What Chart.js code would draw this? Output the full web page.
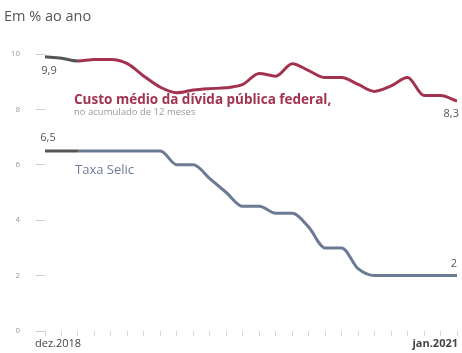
<!DOCTYPE html>
<html>
<head>
<meta charset="utf-8">
<script src="https://cdn.jsdelivr.net/npm/chart.js@4.4.1/dist/chart.umd.min.js"></script>
<style>
  html, body { margin: 0; padding: 0; background: #fff; }
  #wrap { width: 462px; height: 353px; position: relative; }
</style>
</head>
<body>
<div id="wrap"><canvas id="chart"></canvas></div>
<script>
// Months, dez.2018 to jan.2021
const months = [
    'dez.2018',
    'jan.2019', 'fev.2019', 'mar.2019', 'abr.2019', 'mai.2019', 'jun.2019',
    'jul.2019', 'ago.2019', 'set.2019', 'out.2019', 'nov.2019', 'dez.2019',
    'jan.2020', 'fev.2020', 'mar.2020', 'abr.2020', 'mai.2020', 'jun.2020',
    'jul.2020', 'ago.2020', 'set.2020', 'out.2020', 'nov.2020', 'dez.2020',
    'jan.2021'
];

// Custo medio da divida publica federal (% a.a., acumulado 12 meses)
const custoMedio = [
    9.9, 9.85, 9.75, 9.8, 9.8, 9.65, 9.2, 8.8, 8.6, 8.7, 8.75, 8.78, 8.9,
    9.3, 9.2, 9.65, 9.4, 9.15, 9.15, 8.9, 8.65, 8.85, 9.15, 8.5, 8.5, 8.3
];

// Taxa Selic (% a.a.)
const selic = [
    6.5, 6.5, 6.5, 6.5, 6.5, 6.5, 6.5, 6.5, 6.0, 6.0, 5.5, 5.0, 4.5,
    4.5, 4.25, 4.25, 3.75, 3.0, 3.0, 2.25, 2.0, 2.0, 2.0, 2.0, 2.0, 2.0
];

const yTicks = [0, 2, 4, 6, 8, 10];

const redColor = '#a3324f';
const blueColor = '#6c7b95';
const startGray = '#555555';

// Draws the title, the value tags and the series labels
const annotations = {
    id: 'annotations',
    afterDraw(chart) {
        const ctx = chart.ctx;
        const x = chart.scales.x;
        const y = chart.scales.y;
        const last = months.length - 1;
        ctx.save();
        ctx.textBaseline = 'middle';

        ctx.fillStyle = '#555';
        ctx.font = '14.5px "Open Sans"';
        ctx.textAlign = 'left';
        ctx.fillText('Em % ao ano', 4, 17);

        ctx.font = '11px "Open Sans"';
        ctx.fillStyle = '#555';
        ctx.textAlign = 'center';
        ctx.fillText('9,9', x.getPixelForValue(0) + 4, y.getPixelForValue(custoMedio[0]) + 14);
        ctx.fillText('6,5', x.getPixelForValue(0) + 3, y.getPixelForValue(selic[0]) - 13);
        ctx.textAlign = 'right';
        ctx.fillText('8,3', x.getPixelForValue(last) + 2, y.getPixelForValue(custoMedio[last]) + 13);
        ctx.fillText('2', x.getPixelForValue(last), y.getPixelForValue(selic[last]) - 12);

        ctx.textAlign = 'left';
        ctx.font = 'bold 13.5px "Open Sans"';
        ctx.fillStyle = redColor;
        ctx.fillText('Custo médio da dívida pública federal,', 74, 100);
        ctx.font = '9.5px "Open Sans"';
        ctx.fillStyle = '#999';
        ctx.fillText('no acumulado de 12 meses', 74, 112);

        ctx.font = '13px "Open Sans"';
        ctx.fillStyle = blueColor;
        ctx.fillText('Taxa Selic', 75, 170);

        // x axis end labels
        ctx.fillStyle = '#444';
        ctx.font = '11px "Open Sans"';
        ctx.textAlign = 'left';
        ctx.fillText(months[0], 35, 344);
        ctx.font = 'bold 11px "Open Sans"';
        ctx.textAlign = 'right';
        ctx.fillText(months[last], 458, 344);
        ctx.restore();
    }
};

const segColor = (color) => (c) => c.p0DataIndex < 2 ? startGray : color;

new Chart(document.getElementById('chart'), {
    type: 'line',
    data: {
        labels: months,
        datasets: [{
            label: 'Custo médio',
            data: custoMedio,
            borderColor: redColor,
            segment: { borderColor: segColor(redColor) },
            borderWidth: 3,
            cubicInterpolationMode: 'monotone',
            pointRadius: 0
        }, {
            label: 'Taxa Selic',
            data: selic,
            borderColor: blueColor,
            segment: { borderColor: segColor(blueColor) },
            borderWidth: 3,
            cubicInterpolationMode: 'monotone',
            pointRadius: 0
        }]
    },
    options: {
        responsive: true,
        maintainAspectRatio: false,
        animation: false,
        layout: { padding: { top: 54, right: 5, bottom: 0, left: 0 } },
        plugins: {
            legend: { display: false },
            tooltip: { enabled: false }
        },
        scales: {
            x: {
                grid: {
                    drawOnChartArea: false,
                    drawTicks: true,
                    tickLength: 5,
                    color: '#d6d6d6'
                },
                border: { display: false },
                ticks: { display: false },
                afterFit: (s) => { s.height = 22; }
            },
            y: {
                min: 0,
                max: 10,
                afterBuildTicks: (s) => { s.ticks = yTicks.map(v => ({ value: v })); },
                grid: {
                    drawOnChartArea: false,
                    drawTicks: true,
                    tickLength: 9,
                    color: '#cfcfcf'
                },
                border: { display: false },
                ticks: {
                    color: '#999',
                    font: { size: 8, family: '"Open Sans"' },
                    padding: 16
                },
                afterFit: (s) => { s.width = 45; }
            }
        }
    },
    plugins: [annotations]
});
</script>
</body>
</html>
